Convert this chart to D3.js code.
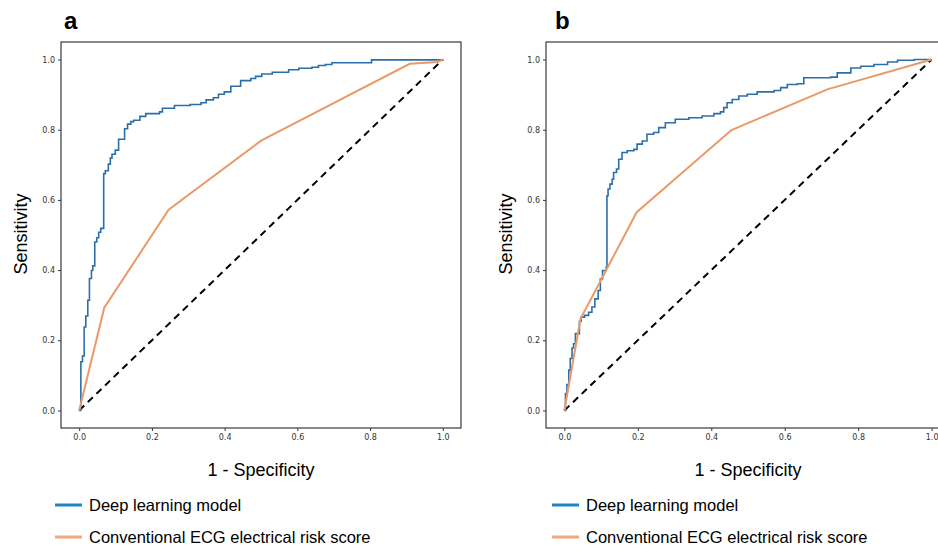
<!DOCTYPE html>
<html lang="en">
<head>
<meta charset="UTF-8" />
<title>ROC curves</title>
<script src="https://cdn.jsdelivr.net/npm/d3@7"></script>
<style>
  body { margin: 0; background: #fff; }
  svg { display: block; font-family: "Liberation Sans", Arial, sans-serif; }
  .frame { fill: none; stroke: #3a3a3a; stroke-width: 1.2px; }
  .tick text { font-size: 8px; fill: #333; font-family: "DejaVu Sans", sans-serif; }
  .tick line { stroke: #333; }
  .domain { display: none; }
  .dl { fill: none; stroke: #2c6fa8; stroke-width: 1.6px; }
  .ecg { fill: none; stroke: #e99a68; stroke-width: 2px; }
  .chance { fill: none; stroke: #000; stroke-width: 2px; stroke-dasharray: 7,5; }
</style>
</head>
<body>
<script>
// panel a - deep learning model (fpr / tpr at each step)
var fprA = [0, 0.0046, 0.0091, 0.0137, 0.0182, 0.0237, 0.0282, 0.0337, 0.0373, 0.0428, 0.0483, 0.0537, 0.0592,
  0.0674, 0.0719, 0.0801, 0.0856, 0.0902, 0.0993, 0.1084, 0.1248, 0.133, 0.142, 0.150, 0.167, 0.183, 0.221,
  0.229, 0.262, 0.305, 0.335, 0.349, 0.369, 0.383, 0.399, 0.417, 0.444, 0.472, 0.485, 0.502, 0.531, 0.576,
  0.604, 0.640, 0.658, 0.677, 0.695, 0.804, 1];
var tprA = [0, 0.139, 0.155, 0.238, 0.269, 0.314, 0.376, 0.399, 0.412, 0.480, 0.492, 0.508, 0.519,
  0.675, 0.683, 0.702, 0.719, 0.730, 0.742, 0.773, 0.803, 0.816, 0.823, 0.827, 0.838, 0.846, 0.851,
  0.861, 0.869, 0.872, 0.877, 0.885, 0.891, 0.901, 0.908, 0.924, 0.940, 0.946, 0.952, 0.959, 0.964, 0.971,
  0.975, 0.978, 0.983, 0.986, 0.991, 0.999, 1];
// panel a - conventional ECG risk score
var ecgFprA = [0, 0.069, 0.246, 0.499, 0.909, 0.986, 1];
var ecgTprA = [0, 0.293, 0.572, 0.768, 0.988, 0.993, 1];

// panel b - deep learning model
var fprB = [0, 0.003, 0.007, 0.012, 0.016, 0.021, 0.025, 0.030, 0.041, 0.046, 0.055, 0.066, 0.075, 0.083,
  0.092, 0.098, 0.104, 0.114, 0.116, 0.119, 0.124, 0.130, 0.134, 0.142, 0.148, 0.157, 0.171, 0.189, 0.198,
  0.212, 0.225, 0.243, 0.257, 0.275, 0.302, 0.339, 0.375, 0.393, 0.407, 0.425, 0.434, 0.443, 0.457, 0.475,
  0.498, 0.525, 0.571, 0.589, 0.607, 0.634, 0.652, 0.725, 0.743, 0.780, 0.807, 0.843, 0.880, 0.907, 0.953, 1];
var tprB = [0, 0.048, 0.074, 0.115, 0.148, 0.178, 0.190, 0.219, 0.254, 0.266, 0.271, 0.280, 0.295, 0.318,
  0.342, 0.375, 0.399, 0.408, 0.612, 0.631, 0.645, 0.659, 0.678, 0.688, 0.716, 0.735, 0.740, 0.744, 0.759,
  0.768, 0.787, 0.792, 0.806, 0.820, 0.830, 0.834, 0.839, 0.839, 0.846, 0.851, 0.863, 0.877, 0.886, 0.896,
  0.901, 0.908, 0.912, 0.920, 0.929, 0.931, 0.948, 0.950, 0.962, 0.976, 0.981, 0.986, 0.993, 0.998, 1.0, 1];
var ecgFprB = [0, 0.044, 0.197, 0.455, 0.716, 1];
var ecgTprB = [0, 0.261, 0.565, 0.799, 0.915, 1];

var ticks = [0, 0.2, 0.4, 0.6, 0.8, 1.0];
var legendLabels = ["Deep learning model", "Conventional ECG electrical risk score"];
var legendColors = ["#1f86c6", "#f0a77c"];

var W = 938, H = 546;
var svg = d3.select("body").append("svg").attr("width", W).attr("height", H);

function zip(xs, ys) {
  return xs.map(function(x, i) { return [x, ys[i]]; });
}

function panel(opts) {
  var g = svg.append("g");
  var xScale = d3.scaleLinear().domain([-0.05, 1.05]).range([opts.left, opts.right]);
  var yScale = d3.scaleLinear().domain([-0.05, 1.05]).range([428, 42]);

  var clipId = "clip" + opts.name;
  svg.append("clipPath").attr("id", clipId)
     .append("rect").attr("x", opts.left).attr("y", 42)
     .attr("width", opts.right - opts.left).attr("height", 386);

  var xAxis = d3.axisBottom(xScale).tickValues(ticks).tickSize(3).tickPadding(3)
                .tickFormat(d3.format(".1f"));
  var yAxis = d3.axisLeft(yScale).tickValues(ticks).tickSize(3).tickPadding(3)
                .tickFormat(d3.format(".1f"));
  g.append("g").attr("transform", "translate(0,428)").call(xAxis);
  g.append("g").attr("transform", "translate(" + opts.left + ",0)").call(yAxis);

  var plot = g.append("g").attr("clip-path", "url(#" + clipId + ")");
  var line = d3.line()
               .x(function(d) { return xScale(d[0]); })
               .y(function(d) { return yScale(d[1]); });

  plot.append("path").attr("class", "chance")
      .attr("d", line([[0, 0], [1, 1]]));
  plot.append("path").attr("class", "dl")
      .attr("d", line.curve(d3.curveStepAfter)(zip(opts.fpr, opts.tpr)));
  plot.append("path").attr("class", "ecg")
      .attr("d", line.curve(d3.curveLinear)(zip(opts.ecgFpr, opts.ecgTpr)));

  g.append("rect").attr("class", "frame")
   .attr("x", opts.left).attr("y", 42)
   .attr("width", opts.right - opts.left).attr("height", 386);

  // panel letter
  g.append("text").text(opts.name)
   .attr("x", opts.letterX).attr("y", 29)
   .attr("font-size", 24).attr("font-weight", "bold");

  // axis titles
  var cx = (xScale(0) + xScale(1)) / 2;
  g.append("text").text("1 - Specificity")
   .attr("x", cx).attr("y", 476)
   .attr("text-anchor", "middle").attr("font-size", 18);
  g.append("text").text("Sensitivity")
   .attr("text-anchor", "middle").attr("font-size", 18)
   .attr("transform", "translate(" + (opts.left - 34) + ",234)rotate(-90)");

  // legend
  legendLabels.forEach(function(lab, i) {
    var y = 505 + i * 32;
    g.append("line")
     .attr("x1", opts.legendX).attr("x2", opts.legendX + 27)
     .attr("y1", y).attr("y2", y)
     .attr("stroke", legendColors[i]).attr("stroke-width", 3);
    g.append("text").text(lab)
     .attr("x", opts.legendX + 34).attr("y", y + 6)
     .attr("font-size", 16.5);
  });
}

panel({ name: "a", left: 61, right: 461, letterX: 64, legendX: 55,
        fpr: fprA, tpr: tprA, ecgFpr: ecgFprA, ecgTpr: ecgTprA });
panel({ name: "b", left: 546, right: 950, letterX: 555, legendX: 552,
        fpr: fprB, tpr: tprB, ecgFpr: ecgFprB, ecgTpr: ecgTprB });
</script>
</body>
</html>
